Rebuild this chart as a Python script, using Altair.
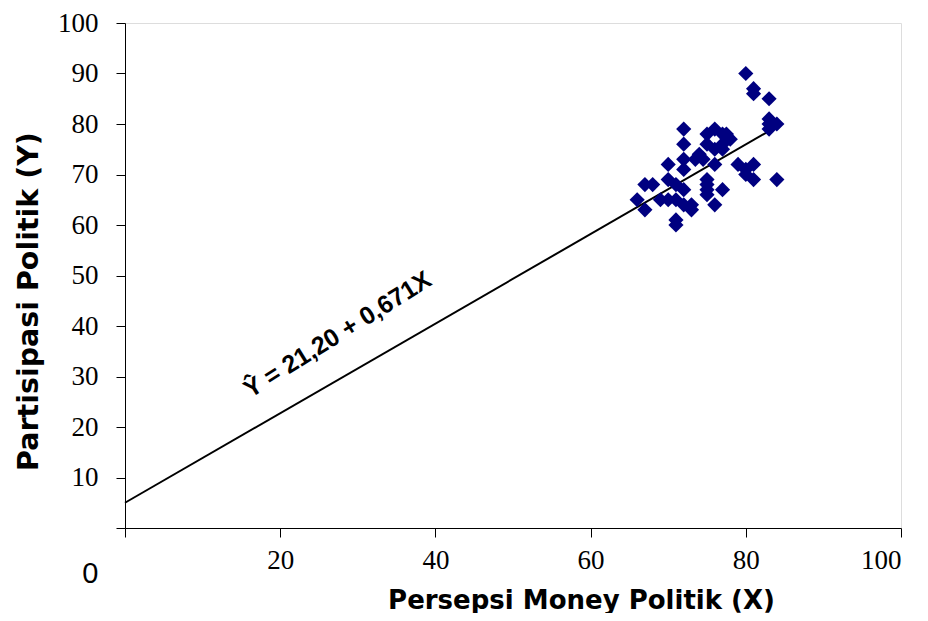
import altair as alt
import pandas as pd

# Scatter data: Persepsi Money Politik (X) vs Partisipasi Politik (Y)
x_vals = [80, 81, 81, 83, 83, 84, 83, 83, 72, 76, 75, 77, 77.5, 78, 75, 72, 77, 77, 76, 74,
          72, 70, 74.5, 73.5, 76, 79, 80, 81, 72, 80, 81, 84, 70, 67, 68, 71, 72, 75, 75, 75,
          77, 75, 66, 69, 70, 71, 72, 73, 67, 76, 71, 71, 73]
y_vals = [90, 87, 86, 85, 81, 80, 79, 80, 79, 79, 78, 78, 78, 77, 76, 76, 76, 75, 75, 74,
          73, 72, 73, 73, 72, 72, 71, 72, 71, 70, 69, 69, 69, 68, 68, 68, 67, 69, 68, 67,
          67, 66, 65, 65, 65, 65, 64, 63, 63, 64, 61, 60, 64]

# Regression line as drawn
line_x = [0, 84]
line_y = [5, 79.5]

equation = "Ŷ = 21,20 + 0,671X"
eq_x = [27.4]
eq_y = [38.3]

y_ticks = list(range(0, 101, 10))
x_ticks = list(range(0, 101, 20))

pts = pd.DataFrame({"x": x_vals, "y": y_vals})
ln = pd.DataFrame({"x": line_x, "y": line_y})
eq = pd.DataFrame({"x": eq_x, "y": eq_y, "t": [equation]})

xscale = alt.Scale(domain=[0, 100], nice=False, zero=False)
yscale = alt.Scale(domain=[0, 100], nice=False, zero=False)

x_axis = alt.Axis(
    values=x_ticks, grid=False, title="Persepsi Money Politik (X)",
    labelExpr="datum.value == 0 ? '' : datum.label",
    labelFont="Liberation Serif", labelFontSize=27, labelColor="black",
    labelPadding=10, tickSize=9, tickColor="black", domainColor="black",
    titleFont="DejaVu Sans", titleFontSize=26, titleFontWeight="bold", titleColor="black",
    titleX=456, titleY=80, titleBaseline="alphabetic", titleAnchor="middle",
)
y_axis = alt.Axis(
    values=y_ticks, grid=False, title="Partisipasi Politik (Y)",
    labelFont={"condition": {"test": "datum.value == 0", "value": "Liberation Sans"}, "value": "Liberation Serif"},
    labelFontSize={"condition": {"test": "datum.value == 0", "value": 29}, "value": 27},
    labelOffset={"condition": {"test": "datum.value == 0", "value": 45}, "value": 0},
    labelColor="black", labelPadding=18, tickSize=9, tickColor="black", domainColor="black",
    titleFont="DejaVu Sans", titleFontSize=28.5, titleFontWeight="bold", titleColor="black",
    titleX=-88, titleY=278, titleAngle=-90, titleBaseline="alphabetic", titleAnchor="middle",
)

points = alt.Chart(pts).mark_point(
    shape="diamond", filled=True, color="#000080", size=230, opacity=1
).encode(
    x=alt.X("x:Q", scale=xscale, axis=x_axis),
    y=alt.Y("y:Q", scale=yscale, axis=y_axis),
)

line = alt.Chart(ln).mark_line(color="black", strokeWidth=2).encode(
    x=alt.X("x:Q", scale=xscale),
    y=alt.Y("y:Q", scale=yscale),
)

text = alt.Chart(eq).mark_text(
    font="'Liberation Sans Narrow', 'Liberation Sans', sans-serif", fontSize=25, fontWeight="bold",
    color="black", angle=328, align="center", baseline="middle"
).encode(
    x=alt.X("x:Q", scale=xscale),
    y=alt.Y("y:Q", scale=yscale),
    text="t:N",
)

chart = alt.layer(line, points, text).properties(
    width=776, height=505,
    autosize=alt.AutoSizeParams(type="none"),
    padding={"left": 117, "top": 15, "right": 19, "bottom": 85},
).configure_view(stroke=None).configure(background="white")

chart.save("out.html", embed_options={"renderer": "svg", "actions": False})
